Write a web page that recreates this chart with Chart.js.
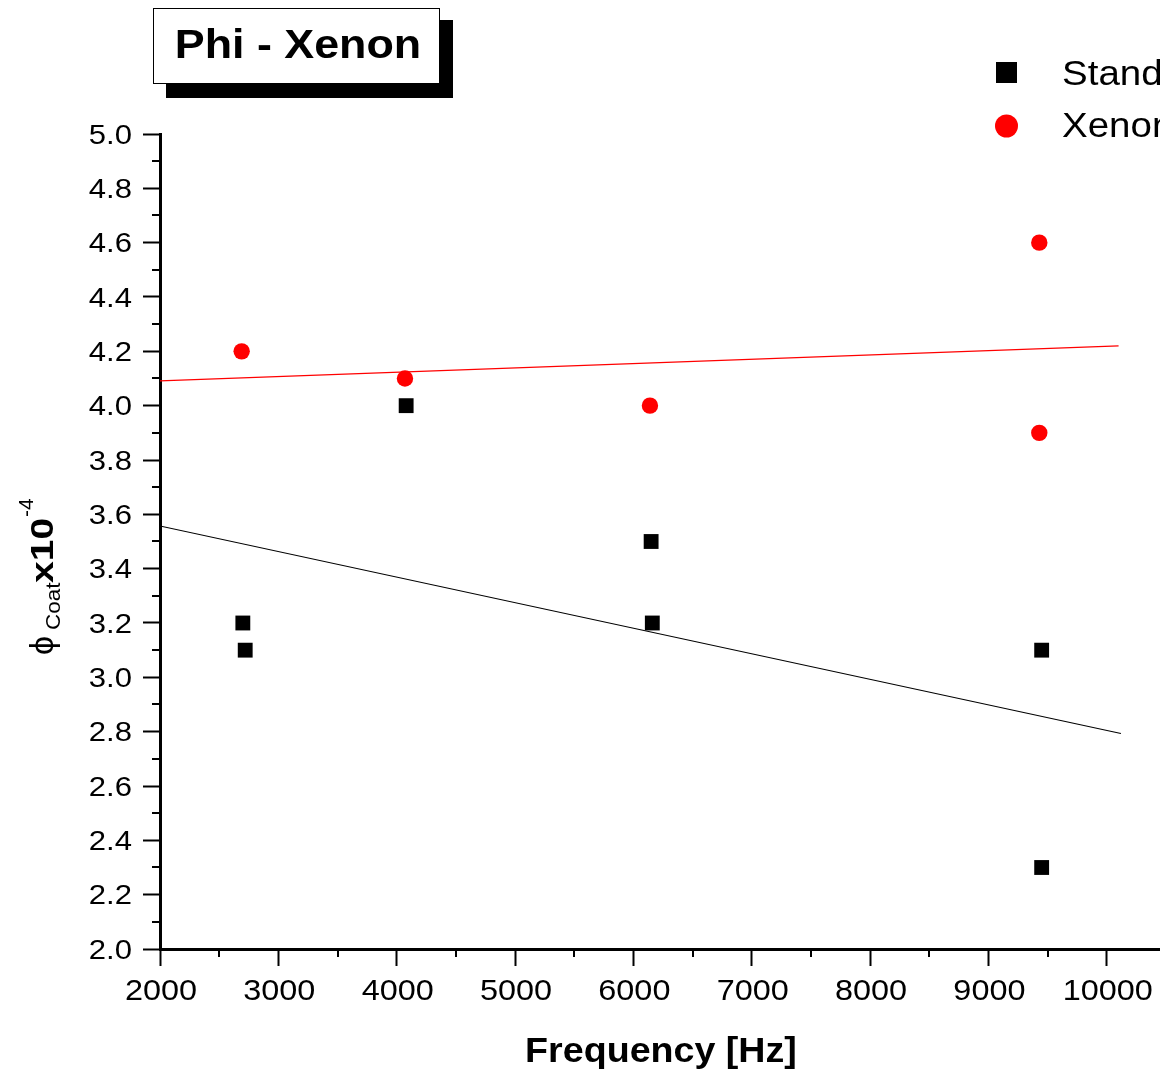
<!DOCTYPE html>
<html>
<head>
<meta charset="utf-8">
<title>Phi - Xenon</title>
<script src="https://cdn.jsdelivr.net/npm/chart.js@4.4.1/dist/chart.umd.min.js"></script>
<style>
  html, body { margin: 0; padding: 0; background: #ffffff; overflow: hidden; }
  #wrap { width: 1160px; height: 1072px; }
</style>
</head>
<body>
<div id="wrap"><canvas id="chart" width="1160" height="1072"></canvas></div>
<script>
// Measured loss angle data: frequency [Hz] vs phi_coat (x10^-4)
const standardFreq = [2700, 2720, 4080, 6150, 6160, 9450, 9450];
const standardPhi  = [3.2, 3.1, 4.0, 3.5, 3.2, 3.1, 2.3];
const xenonFreq    = [2690, 4070, 6140, 9430, 9430];
const xenonPhi     = [4.2, 4.1, 4.0, 4.6, 3.9];

// Linear fit lines (end points)
const standardFitFreq = [2000, 10120];
const standardFitPhi  = [3.557, 2.793];
const xenonFitFreq    = [2000, 10100];
const xenonFitPhi     = [4.091, 4.220];

// Axis ranges and tick labels
const xMin = 2000, xMax = 10450, xStep = 1000, xMinorStep = 500;
const yMin = 2.0, yMax = 5.0, yStep = 0.2, yMinorStep = 0.1;
const xTickLabels = ['2000', '3000', '4000', '5000', '6000', '7000', '8000', '9000', '10000'];
const yTickLabels = ['2.0', '2.2', '2.4', '2.6', '2.8', '3.0', '3.2', '3.4', '3.6', '3.8',
                     '4.0', '4.2', '4.4', '4.6', '4.8', '5.0'];

const chartTitle = 'Phi - Xenon';
const xTitle = 'Frequency [Hz]';
const seriesNames = ['Standard', 'Xenon'];

const FONT = '"Liberation Sans", Arial, sans-serif';

const toPoints = (xs, ys) => xs.map((x, i) => ({ x: x, y: ys[i] }));

// Draw text with an optional horizontal stretch
function drawText(ctx, text, x, y, font, align, sx) {
  ctx.save();
  ctx.font = font;
  ctx.textAlign = 'left';
  ctx.textBaseline = 'alphabetic';
  const w = ctx.measureText(text).width * sx;
  let left = x;
  if (align === 'center') left = x - w / 2;
  else if (align === 'right') left = x - w;
  ctx.translate(left, y);
  ctx.scale(sx, 1);
  ctx.fillText(text, 0, 0);
  ctx.restore();
  return w;
}

const decorations = {
  id: 'decorations',
  afterDraw(chart) {
    const ctx = chart.ctx;
    const xs = chart.scales.x;
    const ys = chart.scales.y;
    const area = chart.chartArea;
    ctx.save();
    ctx.fillStyle = '#000';
    ctx.strokeStyle = '#000';

    // minor ticks
    ctx.lineWidth = 2;
    ctx.beginPath();
    for (let v = yMin + yMinorStep; v < yMax; v += yStep) {
      const py = Math.round(ys.getPixelForValue(v));
      ctx.moveTo(area.left - 8, py);
      ctx.lineTo(area.left, py);
    }
    for (let v = xMin + xMinorStep; v < xMax; v += xStep) {
      const px = Math.round(xs.getPixelForValue(v));
      ctx.moveTo(px, area.bottom);
      ctx.lineTo(px, area.bottom + 8);
    }
    ctx.stroke();

    // y tick labels
    yTickLabels.forEach((lab) => {
      const py = ys.getPixelForValue(parseFloat(lab));
      drawText(ctx, lab, 132, py + 9.5, '27px ' + FONT, 'right', 1.15);
    });
    // x tick labels
    xTickLabels.forEach((lab) => {
      const px = xs.getPixelForValue(parseFloat(lab));
      drawText(ctx, lab, px + 1, 1000, '30px ' + FONT, 'center', 1.08);
    });

    // x axis title
    drawText(ctx, xTitle, 661, 1062, 'bold 35px ' + FONT, 'center', 1.075);

    // y axis title: phi_Coat x10^-4, rotated
    ctx.save();
    ctx.translate(53, 655);
    ctx.rotate(-Math.PI / 2);
    drawText(ctx, '\u03D5', 0, 0, '34px ' + FONT, 'left', 1);
    drawText(ctx, 'Coat', 25, 7, '21px ' + FONT, 'left', 1.07);
    drawText(ctx, 'x10', 72, 0, 'bold 32px ' + FONT, 'left', 1.22);
    drawText(ctx, '-4', 138, -20, '21px ' + FONT, 'left', 1);
    ctx.restore();

    // title box with drop shadow
    ctx.fillStyle = '#000';
    ctx.fillRect(166, 20, 287, 78);
    ctx.fillStyle = '#fff';
    ctx.fillRect(153, 8, 287, 76);
    ctx.lineWidth = 1;
    ctx.strokeRect(153.5, 8.5, 286, 75);
    ctx.fillStyle = '#000';
    drawText(ctx, chartTitle, 298, 58, 'bold 40px ' + FONT, 'center', 1.12);

    // legend
    const ds = chart.data.datasets;
    ctx.fillStyle = ds[0].pointBackgroundColor;
    ctx.fillRect(996, 62, 21, 21);
    ctx.fillStyle = ds[1].pointBackgroundColor;
    ctx.beginPath();
    ctx.arc(1006.5, 126, 11.5, 0, Math.PI * 2);
    ctx.fill();
    ctx.fillStyle = '#000';
    drawText(ctx, seriesNames[0], 1062, 85, '35px ' + FONT, 'left', 1.1);
    drawText(ctx, seriesNames[1], 1062, 137, '35px ' + FONT, 'left', 1.1);

    ctx.restore();
  }
};

new Chart(document.getElementById('chart'), {
  type: 'scatter',
  data: {
    datasets: [
      {
        label: seriesNames[0],
        data: toPoints(standardFreq, standardPhi),
        pointStyle: 'rect',
        pointRadius: 10.5,
        pointBorderWidth: 0,
        pointBackgroundColor: '#000000',
        pointBorderColor: '#000000',
        order: 1
      },
      {
        label: seriesNames[1],
        data: toPoints(xenonFreq, xenonPhi),
        pointStyle: 'circle',
        pointRadius: 8.2,
        pointBorderWidth: 0,
        pointBackgroundColor: '#ff0000',
        pointBorderColor: '#ff0000',
        order: 2
      },
      {
        type: 'line',
        label: 'Standard fit',
        data: toPoints(standardFitFreq, standardFitPhi),
        borderColor: '#000000',
        borderWidth: 1.1,
        pointRadius: 0,
        fill: false,
        order: 3
      },
      {
        type: 'line',
        label: 'Xenon fit',
        data: toPoints(xenonFitFreq, xenonFitPhi),
        borderColor: '#ff0000',
        borderWidth: 1.2,
        pointRadius: 0,
        fill: false,
        order: 4
      }
    ]
  },
  options: {
    responsive: false,
    animation: false,
    events: [],
    layout: { autoPadding: false, padding: { top: 134, left: 0, right: 0, bottom: 0 } },
    plugins: {
      legend: { display: false },
      title: { display: false },
      tooltip: { enabled: false }
    },
    scales: {
      x: {
        type: 'linear',
        bounds: 'data',
        min: xMin,
        max: xMax,
        ticks: { stepSize: xStep, includeBounds: false, display: false },
        grid: { drawOnChartArea: false, drawTicks: true, tickLength: 17, tickWidth: 2, tickColor: '#000' },
        border: { display: true, color: '#000', width: 3 },
        afterBuildTicks(scale) { scale.ticks = xTickLabels.map((t) => ({ value: parseFloat(t) })); },
        afterFit(scale) { scale.height = 123; }
      },
      y: {
        type: 'linear',
        bounds: 'data',
        min: yMin,
        max: yMax,
        ticks: { stepSize: yStep, includeBounds: false, display: false },
        grid: { drawOnChartArea: false, drawTicks: true, tickLength: 17, tickWidth: 2, tickColor: '#000' },
        border: { display: true, color: '#000', width: 3 },
        afterBuildTicks(scale) { scale.ticks = yTickLabels.map((t) => ({ value: parseFloat(t) })); },
        afterFit(scale) { scale.width = 160; }
      }
    }
  },
  plugins: [decorations]
});
</script>
</body>
</html>
